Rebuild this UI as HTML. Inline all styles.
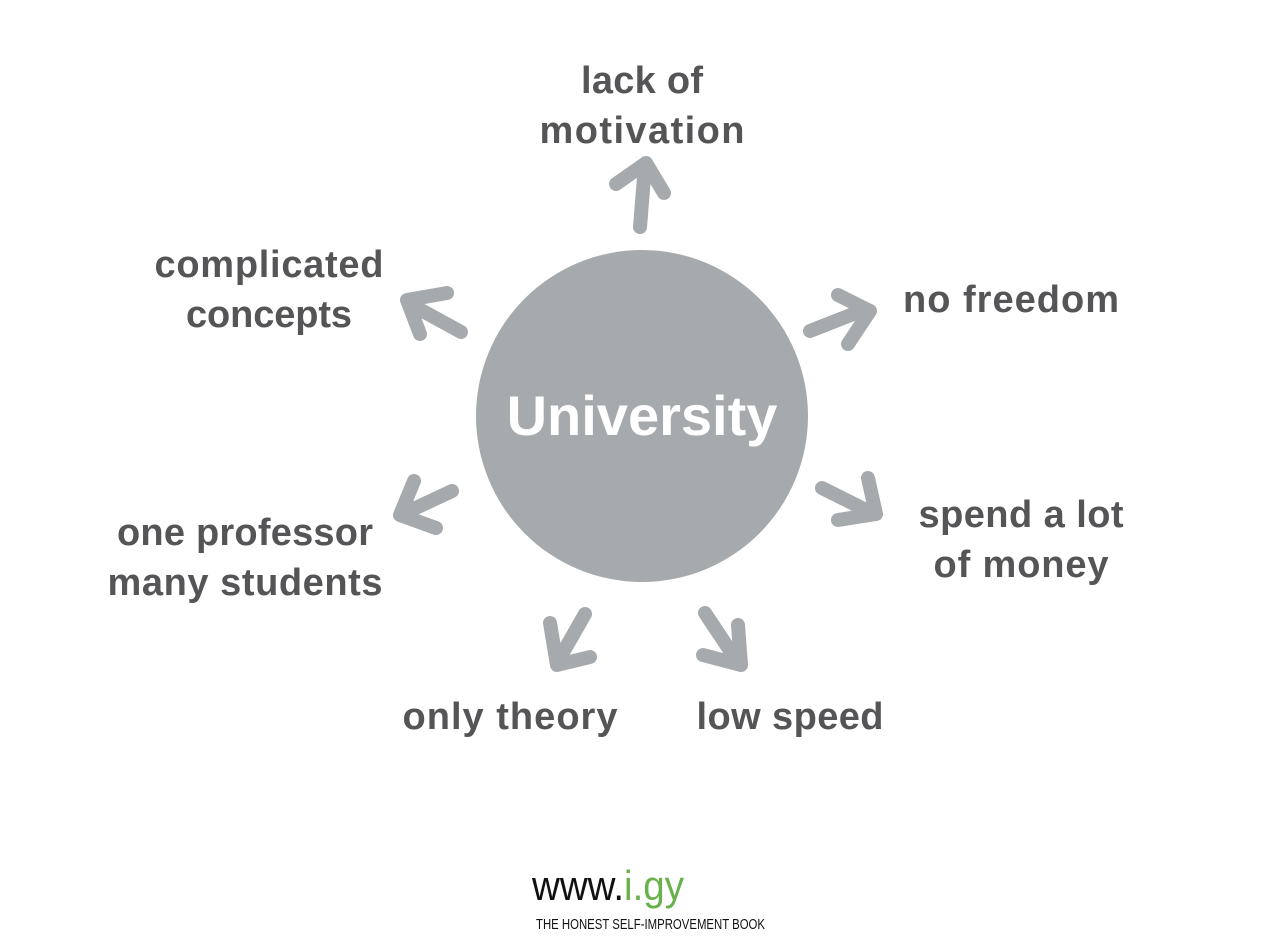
<!DOCTYPE html>
<html><head><meta charset="utf-8"><style>
body{margin:0;background:#fff;width:1282px;height:943px;overflow:hidden}
svg{display:block}
.t{font-family:"Liberation Sans",sans-serif;font-weight:bold;font-size:38px;fill:#555557}
</style></head><body>
<svg width="1282" height="943" viewBox="0 0 1282 943">
<circle cx="642" cy="416" r="166" fill="#a7aaad"/>
<text x="642" y="435" text-anchor="middle" font-family="Liberation Sans,sans-serif" font-weight="bold" font-size="56" fill="#fff">University</text>
<g fill="none" stroke="#a7aaad" stroke-width="14" stroke-linecap="round" stroke-linejoin="round">
<path d="M640 227 L645 165 M616 184 L646 163 L664 193"/>
<path d="M461 332 L410 304 M420 334 L407 300 L447 293"/>
<path d="M810 331 L866 309 M838 295 L870 311 L848 344"/>
<path d="M452 491 L403 514 M414 481 L400 515 L436 528"/>
<path d="M822 488 L872 513 M868 478 L876 514 L838 520"/>
<path d="M585 614 L557 663 M550 623 L557 665 L590 657"/>
<path d="M705 613 L737 661 M738 625 L741 665 L703 655"/>
</g>
<g class="t" text-anchor="middle" lengthAdjust="spacingAndGlyphs">
<text x="642" y="93" textLength="122">lack of</text>
<text x="642" y="143" textLength="205">motivation</text>
<text x="269" y="277" textLength="229">complicated</text>
<text x="269" y="327" textLength="166">concepts</text>
<text x="1011" y="312" textLength="216">no freedom</text>
<text x="245" y="545" textLength="256">one professor</text>
<text x="245" y="595" textLength="275">many students</text>
<text x="1021" y="527" textLength="205">spend a lot</text>
<text x="1021" y="577" textLength="175">of money</text>
<text x="510" y="729" textLength="215">only theory</text>
<text x="790" y="729" textLength="187">low speed</text>
</g>
<text x="532" y="900" font-family="Liberation Sans,sans-serif" font-size="42" fill="#111" textLength="152" lengthAdjust="spacingAndGlyphs">www.<tspan fill="#6ab04c">i.gy</tspan></text>
<text x="536" y="929" font-family="Liberation Sans,sans-serif" font-size="15" fill="#111" textLength="229" lengthAdjust="spacingAndGlyphs">THE HONEST SELF-IMPROVEMENT BOOK</text>
</svg>
</body></html>
